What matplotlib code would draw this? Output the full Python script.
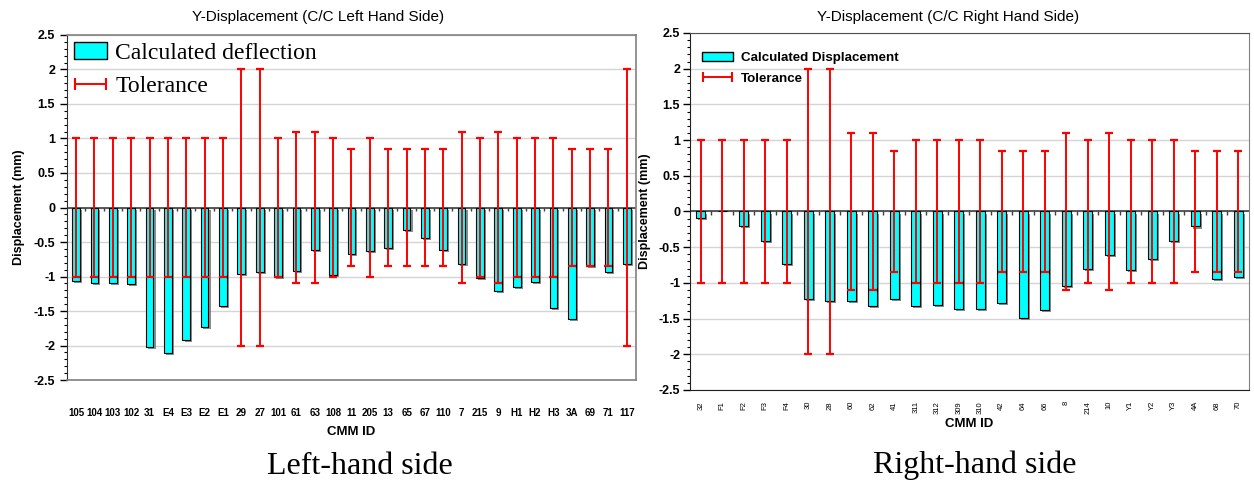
import numpy as np
import matplotlib
matplotlib.use("Agg")
import matplotlib.pyplot as plt
import matplotlib.patheffects as pe
from matplotlib.ticker import MultipleLocator, FuncFormatter
from matplotlib.patches import Patch
from matplotlib.lines import Line2D
from matplotlib.legend_handler import HandlerLine2D

plt.rcParams['axes.unicode_minus'] = False
plt.rcParams['font.family'] = ['Liberation Sans', 'DejaVu Sans']

# ---------------- data ----------------
left_ids = ['105', '104', '103', '102', '31', 'E4', 'E3', 'E2', 'E1', '29', '27', '101', '61', '63',
            '108', '11', '205', '13', '65', '67', '110', '7', '215', '9', 'H1', 'H2', 'H3', '3A',
            '69', '71', '117']
left_disp = [-1.06, -1.09, -1.09, -1.11, -2.02, -2.11, -1.92, -1.73, -1.43, -0.96, -0.93, -1.01,
             -0.92, -0.61, -0.98, -0.67, -0.63, -0.58, -0.32, -0.44, -0.61, -0.82, -1.02, -1.21,
             -1.15, -1.08, -1.45, -1.61, -0.85, -0.93, -0.82]
left_tol = [1, 1, 1, 1, 1, 1, 1, 1, 1, 2, 2, 1, 1.1, 1.1, 1, 0.85, 1, 0.85, 0.85, 0.85, 0.85,
            1.1, 1, 1.1, 1, 1, 1, 0.85, 0.85, 0.85, 2]

right_ids = ['32', 'F1', 'F2', 'F3', 'F4', '30', '28', '60', '62', '41', '311', '312', '309',
             '310', '42', '64', '66', '8', '214', '10', 'Y1', 'Y2', 'Y3', '4A', '68', '70']
right_disp = [-0.09, 0.0, -0.2, -0.41, -0.74, -1.22, -1.25, -1.25, -1.32, -1.22, -1.32, -1.31,
              -1.36, -1.36, -1.28, -1.49, -1.38, -1.04, -0.80, -0.61, -0.82, -0.67, -0.41,
              -0.21, -0.95, -0.92]
right_tol = [1, 1, 1, 1, 1, 2, 2, 1.1, 1.1, 0.85, 1, 1, 1, 1, 0.85, 0.85, 0.85, 1.1, 1, 1.1,
             1, 1, 1, 0.85, 0.85, 0.85]

left_title = 'Y-Displacement (C/C Left Hand Side)'
right_title = 'Y-Displacement (C/C Right Hand Side)'
y_label = 'Displacement (mm)'
x_label = 'CMM ID'

CYAN = '#00FFFF'
RED = '#FF0000'

fig = plt.figure(figsize=(12.54, 4.82), dpi=100)
axL = fig.add_axes([0.0534, 0.2116, 0.4538, 0.7158])
axR = fig.add_axes([0.5502, 0.1909, 0.4458, 0.7407])


def draw(ax, ids, disp, tol):
    n = len(ids)
    x = np.arange(n)
    ax.set_xlim(-0.5, n - 0.5)
    ax.set_ylim(-2.5, 2.5)
    ax.yaxis.set_major_locator(MultipleLocator(0.5))
    ax.yaxis.set_minor_locator(MultipleLocator(0.1))
    ax.yaxis.set_major_formatter(FuncFormatter(lambda v, p: '%g' % round(v, 2)))
    ax.grid(axis='y', which='major', color='#d4d4d4', lw=1.0, zorder=0)
    ax.set_axisbelow(True)
    bars = ax.bar(x, disp, width=0.42, color=CYAN, edgecolor='black', lw=0.8, zorder=3)
    for b in bars:
        b.set_path_effects([pe.SimplePatchShadow(offset=(1.5, -1.5), shadow_rgbFace='#808080', alpha=0.9),
                            pe.Normal()])
    ax.errorbar(x, np.zeros(n), yerr=tol, fmt='none', ecolor=RED, elinewidth=1.4,
                capsize=3.2, capthick=1.6, zorder=4)
    ax.axhline(0, color='#404040', lw=1.2, zorder=2)
    ax.vlines(np.arange(n - 1) + 0.5, -0.045, 0, color='#404040', lw=1.0, zorder=2)
    ax.set_xticks(x)
    ax.tick_params(axis='x', length=0)
    ax.tick_params(axis='y', which='major', length=5, width=1, direction='out', labelsize=9)
    ax.tick_params(axis='y', which='minor', length=2.5, width=0.8, direction='out')
    for lab in ax.get_yticklabels():
        lab.set_fontweight('bold')


hmap = {Line2D: HandlerLine2D(marker_pad=0.05, numpoints=2)}

# Left chart
draw(axL, left_ids, left_disp, left_tol)
axL.set_xticklabels(left_ids, fontsize=7, fontweight='bold',
                    family=['Liberation Sans Narrow', 'Liberation Sans', 'DejaVu Sans'])
axL.tick_params(axis='x', pad=20)
for s in ['top', 'right', 'bottom']:
    axL.spines[s].set_color('#808080')
    axL.spines[s].set_linewidth(1.2)
axL.spines['left'].set_color('#303030')
axL.set_ylabel(y_label, fontsize=9, fontweight='bold', labelpad=6)
axL.set_xlabel(x_label, fontsize=9.5, fontweight='bold', labelpad=6)
hL = [Patch(facecolor=CYAN, edgecolor='black', lw=1.0),
      Line2D([0], [0], color=RED, lw=1.4, marker='|', markersize=9, markeredgewidth=1.5)]
axL.legend(hL, ['Calculated deflection', 'Tolerance'], loc='upper left', frameon=False,
           prop={'family': 'Liberation Serif', 'size': 17}, handlelength=1.4, handletextpad=0.35,
           borderaxespad=0.1, labelspacing=0.5, borderpad=0.2,
           bbox_to_anchor=(0.0, 1.0), handler_map=hmap)

# Right chart
draw(axR, right_ids, right_disp, right_tol)
axR.set_xticklabels(right_ids, fontsize=5.5, rotation=90)
axR.tick_params(axis='x', pad=8)
axR.tick_params(axis='y', which='major', pad=2)
axR.spines['top'].set_color('#505050')
axR.spines['right'].set_color('#808080')
axR.spines['left'].set_color('#202020')
axR.spines['bottom'].set_color('#202020')
axR.set_ylabel(y_label, fontsize=9, fontweight='bold')
axR.yaxis.set_label_coords(-0.07, 0.5)
axR.set_xlabel(x_label, fontsize=9.5, fontweight='bold', labelpad=3)
hR = [Patch(facecolor=CYAN, edgecolor='black', lw=1.0),
      Line2D([0], [0], color=RED, lw=1.4, marker='|', markersize=7, markeredgewidth=1.5)]
axR.legend(hR, ['Calculated Displacement', 'Tolerance'], loc='upper left', frameon=False,
           prop={'family': 'Liberation Sans', 'size': 9.6, 'weight': 'bold'}, handlelength=2.3,
           handletextpad=0.6, borderaxespad=0.0, labelspacing=0.65,
           bbox_to_anchor=(0.012, 0.963), handler_map=hmap)

# Titles and captions
fig.text(318 / 1254, 1 - 17 / 482, left_title, ha='center', va='center', fontsize=11)
fig.text(948 / 1254, 1 - 17 / 482, right_title, ha='center', va='center', fontsize=11)
fig.text(360 / 1254, 1 - 467 / 482, 'Left-hand side', ha='center', va='center',
         fontsize=23, family='Liberation Serif')
fig.text(975 / 1254, 1 - 465 / 482, 'Right-hand side', ha='center', va='center',
         fontsize=23, family='Liberation Serif')

fig.savefig('out.png', dpi=100)
